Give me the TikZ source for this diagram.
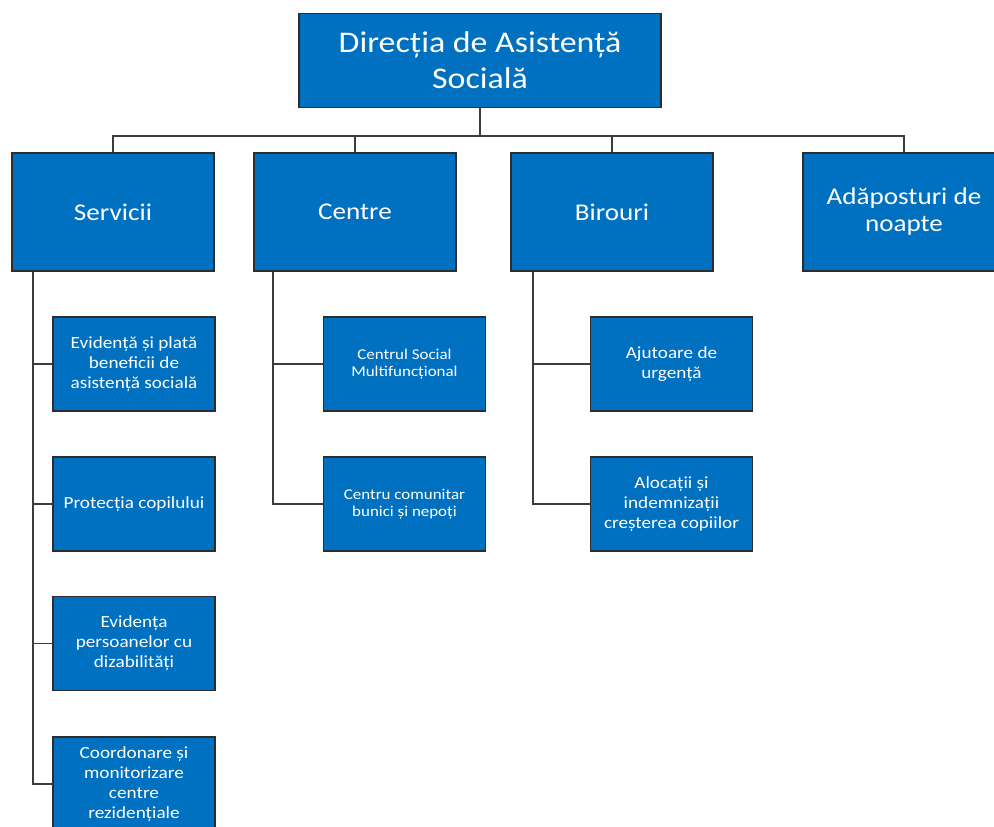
\documentclass[tikz,border=0pt]{standalone}
\usepackage{fontspec}
\setmainfont[FakeStretch=1.13]{Carlito}
\definecolor{orgblue}{RGB}{0,112,192}
\definecolor{orgedge}{RGB}{45,45,45}
\definecolor{orgline}{RGB}{60,60,60}

\begin{document}
\begin{tikzpicture}[x=1pt,y=-1pt,
    box/.style={draw=orgedge,line width=1.2pt,fill=orgblue,text=white,align=center,inner sep=2pt},
    topbox/.style={box,minimum width=362pt,minimum height=94pt,font=\fontsize{30}{36}\selectfont},
    deptbox/.style={box,minimum width=202pt,minimum height=118pt,font=\fontsize{24}{27}\selectfont},
    unitbox/.style={box,minimum width=162pt,minimum height=94pt,font=\fontsize{17}{20}\selectfont},
    link/.style={draw=orgline,line width=1.6pt}]
      \clip (0,0) rectangle (994,827);
      \node[topbox] (dir) at (480,60.5) {Direcția de Asistență\\Socială};
      \node[deptbox] (servicii) at (113,212) {Servicii};
      \node[deptbox] (centre) at (355,212) {Centre};
      \node[deptbox] (birouri) at (612,212) {Birouri};
      \node[deptbox] (adapost) at (904,212) {Adăposturi de\\noapte};
      %
      \node[unitbox] (eviplata) at (134,364) {Evidență și plată\\beneficii de\\asistență socială};
      \node[unitbox] (protectie) at (134,504) {Protecția copilului};
      \node[unitbox] (dizab) at (134,643.5) {Evidența\\persoanelor cu\\dizabilități};
      \node[unitbox] (coord) at (134,784) {Coordonare și\\monitorizare\\centre\\rezidențiale};
      \node[unitbox,font=\fontsize{15}{17}\selectfont] (csm) at (404.5,364) {Centrul Social\\Multifuncțional};
      \node[unitbox,font=\fontsize{15}{17}\selectfont] (ccbn) at (404.5,504) {Centru comunitar\\bunici și nepoți};
      \node[unitbox] (ajutor) at (671.5,364) {Ajutoare de\\urgență};
      \node[unitbox] (alocatii) at (671.5,504) {Alocații și\\indemnizații\\creșterea copiilor};
      %
      \coordinate (bus) at (480,136);
      \draw[link] (dir.south) -- (bus);
      \foreach \d in {servicii,centre,birouri,adapost}
        \draw[link] (bus) -| (\d.north);
      %
      \foreach \u in {eviplata,protectie,dizab,coord}
        \draw[link] (servicii.south -| 33,0) |- (\u.west);
      \foreach \u in {csm,ccbn}
        \draw[link] (centre.south -| 273,0) |- (\u.west);
      \foreach \u in {ajutor,alocatii}
        \draw[link] (birouri.south -| 533,0) |- (\u.west);
\end{tikzpicture}
\end{document}
